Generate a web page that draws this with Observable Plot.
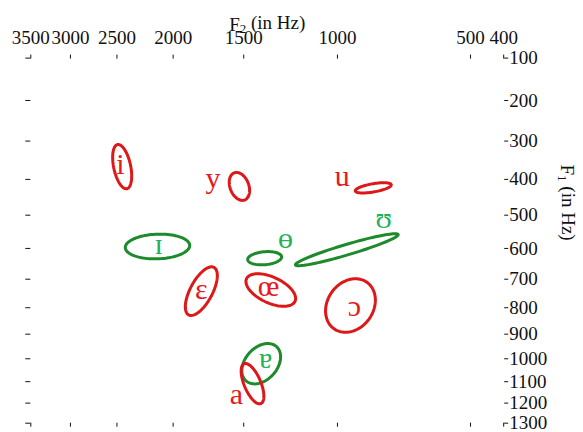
<!DOCTYPE html>
<html>
<head>
<meta charset="utf-8">
<script src="https://cdn.jsdelivr.net/npm/d3@7"></script>
<script src="https://cdn.jsdelivr.net/npm/@observablehq/plot@0.6"></script>
<style>
  html, body { margin: 0; padding: 0; background: #fff; }
  #chart svg { display: block; }
</style>
</head>
<body>
<div id="chart"></div>
<script>
// ---- data (frequencies in Hz; ellipse spreads in Bark) ----
const vowels   = ["i", "y", "u", "ɪ", "ʊ", "ɵ", "ɛ", "œ", "ɔ", "ɐ", "a"];
const groups   = ["red", "red", "red", "green", "green", "green", "red", "red", "red", "green", "red"];
const f2Mean   = [2449, 1527, 846, 2129, 958, 1374, 1785, 1339, 942, 1394, 1446];
const f1Mean   = [366, 419, 423, 594, 604, 631, 741, 737, 792, 1021, 1109];
const sdF2Bark = [0.254, 0.272, 0.481, 0.860, 1.371, 0.453, 0.427, 0.663, 0.665, 0.517, 0.303];
const sdF1Bark = [0.548, 0.346, 0.127, 0.306, 0.396, 0.164, 0.602, 0.403, 0.663, 0.499, 0.499];
const corr     = [-0.42, -0.29, 0.58, 0.08, 0.94, 0.19, 0.64, -0.52, 0.20, 0.34, -0.62];
const labelF2  = [2465, 1702, 978, 2118, 804, 1257, 1785, 1352, 925, 1369, 1546];
const labelF1  = [361, 396, 392, 587, 509, 570, 736, 725, 796, 998, 1160];
const f2Ticks  = [3500, 3000, 2500, 2000, 1500, 1000, 500, 400];
const f1Ticks  = [100, 200, 300, 400, 500, 600, 700, 800, 900, 1000, 1100, 1200, 1300];

// ---- Bark transform (Schroeder) ----
const bark = f => 7 * Math.asinh(f / 650);
const hz = z => 650 * Math.sinh(z / 7);

const RED_LINE = "#dc1818", RED_TEXT = "#e8191c";
const GREEN_LINE = "#1d8a2c", GREEN_TEXT = "#22b25c";

// ellipse outlines built in Bark space from means and spreads
const ellipsePts = [];
vowels.forEach((v, i) => {
  const cx = bark(f2Mean[i]), cy = bark(f1Mean[i]);
  const sx = sdF2Bark[i], sy = sdF1Bark[i], r = corr[i];
  const n = 96;
  for (let k = 0; k <= n; k++) {
    const t = 2 * Math.PI * k / n;
    ellipsePts.push({
      vowel: v, group: groups[i],
      x: cx + sx * Math.cos(t),
      y: cy + sy * (r * Math.cos(t) + Math.sqrt(1 - r * r) * Math.sin(t))
    });
  }
});
const labels = vowels.map((v, i) => ({ vowel: v, group: groups[i], x: bark(labelF2[i]), y: bark(labelF1[i]) }));

const font = "'Liberation Serif', 'Times New Roman', 'DejaVu Serif', serif";
const fmt = d => String(Math.round(hz(d)));

const chart = Plot.plot({
  width: 583,
  height: 432,
  marginLeft: 30.3,
  marginRight: 79.8,
  marginTop: 57.6,
  marginBottom: 9.3,
  style: { fontFamily: font, fontSize: "19px", color: "#111", background: "#fff" },
  x: { domain: [bark(3500), bark(400)], axis: null, label: null },
  y: { domain: [bark(1300), bark(100)], axis: null, label: null },
  marks: [
    Plot.axisX(f2Ticks.map(bark), { anchor: "top", tickSize: 4, tickPadding: 10, tickFormat: fmt, label: null, fontSize: 19 }),
    Plot.axisX(f2Ticks.map(bark), { anchor: "bottom", tickSize: 4, tickFormat: () => "", label: null }),
    Plot.axisY(f1Ticks.map(bark), { anchor: "left", tickSize: 5, tickFormat: () => "", label: null }),
    Plot.axisY(f1Ticks.map(bark), { anchor: "right", tickSize: 4, tickPadding: 1.5, tickFormat: fmt, label: null, fontSize: 19 }),
    Plot.line(ellipsePts.filter(d => d.group === "green"), { x: "x", y: "y", z: "vowel", stroke: GREEN_LINE, strokeWidth: 3 }),
    Plot.line(ellipsePts.filter(d => d.group === "red"), { x: "x", y: "y", z: "vowel", stroke: RED_LINE, strokeWidth: 3 }),
    Plot.text(labels.filter(d => d.group === "red"), { x: "x", y: "y", text: "vowel", fill: RED_TEXT, fontSize: 30, fontFamily: font }),
    Plot.text(labels.filter(d => d.group === "green"), { x: "x", y: "y", text: "vowel", fill: GREEN_TEXT, fontSize: 30, fontFamily: font }),
    Plot.text(["F2 (in Hz)"], { frameAnchor: "top", dy: -41, text: d => d, fontSize: 19, fill: "#111", fontFamily: font }),
    Plot.text(["F1 (in Hz)"], { frameAnchor: "right", dx: 63.5, rotate: 90, text: d => d, fontSize: 19, fill: "#111", fontFamily: font })
  ]
});

// subscripts in the axis titles
d3.select(chart).selectAll("text").each(function () {
  const t = this.textContent;
  if (t === "F2 (in Hz)" || t === "F1 (in Hz)") {
    const el = d3.select(this);
    el.text("");
    el.append("tspan").text("F");
    el.append("tspan").attr("dy", "0.22em").attr("font-size", "13px").text(t[1]);
    el.append("tspan").attr("dy", "-0.22em").text(" (in Hz)");
  }
});

document.getElementById("chart").appendChild(chart);
</script>
</body>
</html>
